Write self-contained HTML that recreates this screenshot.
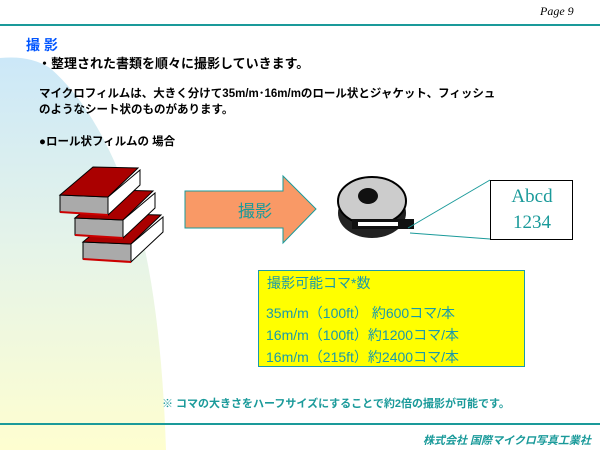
<!DOCTYPE html>
<html><head><meta charset="utf-8"><style>
body{margin:0;width:600px;height:450px;overflow:hidden;background:#fff;position:relative;font-family:"Liberation Sans","Noto Sans CJK JP",sans-serif}
.a{position:absolute;white-space:nowrap}
</style></head><body>
<svg width="600" height="450" style="position:absolute;left:0;top:0">
<defs><linearGradient id="g" x1="0" y1="0" x2="0" y2="1"><stop offset="0" stop-color="#cce8f8"/><stop offset="0.5" stop-color="#e6f4e8"/><stop offset="1" stop-color="#fefed0"/></linearGradient>
<g id="bk" stroke="#000" stroke-width="1">
<polygon points="0,0 48,2 48,20 0,17" fill="#aaa"/>
<polygon points="48,2 80,-25 80,-10 48,20" fill="#fff"/>
<polygon points="0,0 33,-28 78,-27 48,2" fill="#a00"/>
<line x1="0" y1="17" x2="48" y2="20" stroke="#c00" stroke-width="2"/>
</g></defs>
<path d="M0,58 Q30,55 50,68 Q110,120 145,250 Q162,330 166,450 L0,450 Z" fill="url(#g)"/>
<line x1="0" y1="25" x2="600" y2="25" stroke="#1a9a9a" stroke-width="2"/>
<line x1="0" y1="424" x2="600" y2="424" stroke="#1a9a9a" stroke-width="2"/>
<use href="#bk" x="83" y="242"/>
<use href="#bk" x="75" y="218"/>
<use href="#bk" x="60" y="195"/>
<!-- arrow -->
<polygon points="185,191 283,191 283,176 316,209 283,243 283,228 185,228" fill="#f99966" stroke="#1a9a9a"/>
<!-- reel -->
<ellipse cx="372" cy="213" rx="34" ry="25" fill="#222"/>
<ellipse cx="372" cy="201" rx="34" ry="24" fill="#ccc" stroke="#000" stroke-width="2"/>
<ellipse cx="368" cy="196" rx="10" ry="8" fill="#111"/>
<rect x="352" y="219" width="62" height="10" fill="#111"/>
<rect x="358" y="222" width="40" height="4" fill="#fff"/>
<line x1="408" y1="228" x2="490" y2="180" stroke="#1a9a9a"/>
<line x1="410" y1="233" x2="490" y2="239" stroke="#1a9a9a"/>
<rect x="490.5" y="180.5" width="82" height="59" fill="#fff" stroke="#000"/>
<rect x="258.5" y="270.5" width="266" height="96" fill="#ffff00" stroke="#1a9aaa"/>
</svg>
<div class="a" style="left:540px;top:4px;font:italic 12px 'Liberation Serif',serif">Page 9</div>
<div class="a" style="left:26px;top:35px;font-size:14px;font-weight:bold;color:#0055ff">撮 影</div>
<div class="a" style="left:38px;top:53px;font-size:13px;font-weight:bold">・整理された書類を順々に撮影していきます。</div>
<div class="a" style="left:39px;top:86px;font-size:11.5px;line-height:16px;font-weight:bold">マイクロフィルムは、大きく分けて35m/m･16m/mのロール状とジャケット、フィッシュ<br>のようなシート状のものがあります。</div>
<div class="a" style="left:39px;top:133px;font-size:11.5px;font-weight:bold">●ロール状フィルムの 場合</div>
<div class="a" style="left:238px;top:197px;font-size:17px;color:#1a9a9a">撮影</div>
<div class="a" style="left:491px;top:184px;width:82px;text-align:center;font:19px/26px 'Liberation Serif',serif;color:#1a9a9a">Abcd<br>1234</div>
<div class="a" style="left:267px;top:272px;font-size:14px;line-height:22px;color:#1a9aaa">撮影可能コマ*数</div>
<div class="a" style="left:266px;top:302px;font-size:14px;line-height:22px;color:#1a9aaa">35m/m（100ft） 約600コマ/本<br>16m/m（100ft）約1200コマ/本<br>16m/m（215ft）約2400コマ/本</div>
<div class="a" style="left:162px;top:395px;font-size:11px;font-weight:bold;color:#1a9a9a">※ コマの大きさをハーフサイズにすることで約2倍の撮影が可能です。</div>
<div class="a" style="left:423px;top:432px;font-size:11px;font-weight:bold;font-style:italic;color:#1a9a9a">株式会社 国際マイクロ写真工業社</div>
</body></html>
